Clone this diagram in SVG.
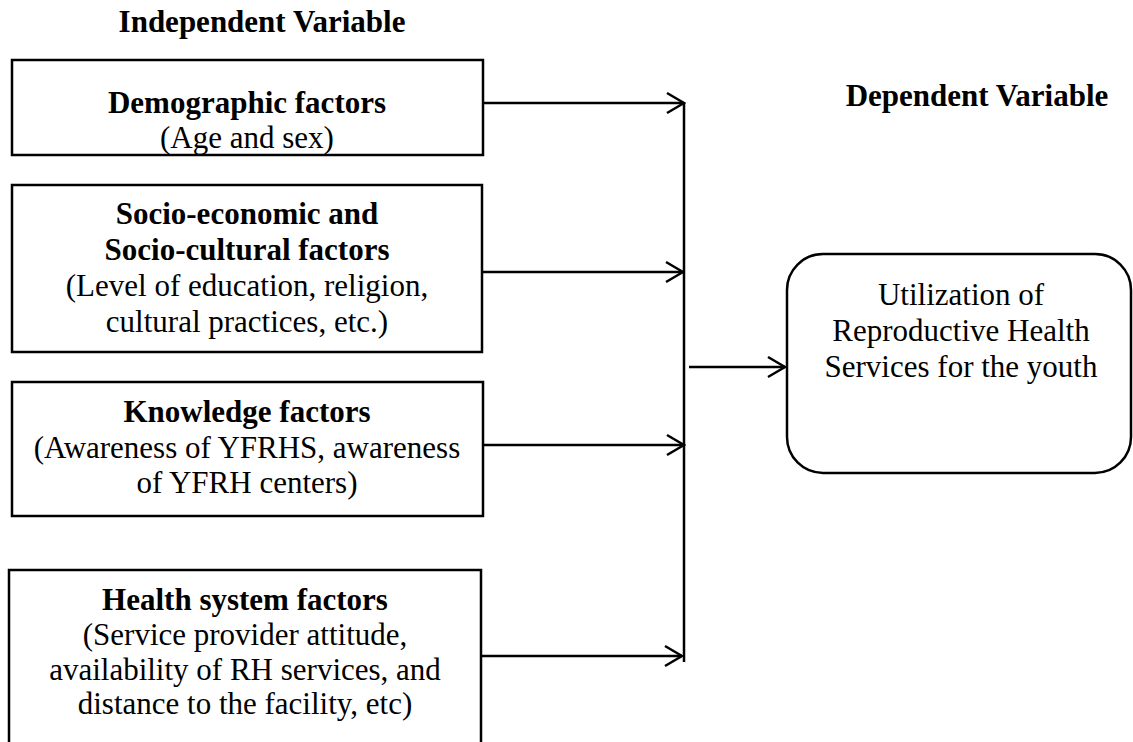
<svg xmlns="http://www.w3.org/2000/svg" width="1133" height="742" viewBox="0 0 1133 742">
<defs>
<style>
text{font-family:"Liberation Serif","Times New Roman",serif;font-size:31px;fill:#000;text-anchor:middle}
.b{font-weight:bold}
.box{fill:#fff;stroke:#000;stroke-width:2.5}
.ln{fill:none;stroke:#000;stroke-width:2.5}
</style>
<marker id="ah" markerWidth="20" markerHeight="24" refX="18" refY="12" orient="auto" markerUnits="userSpaceOnUse">
<path d="M1,2 L18,12 L1,22" fill="none" stroke="#000" stroke-width="2.5"/>
</marker>
</defs>
<rect width="1133" height="742" fill="#fff"/>
<g id="header-independent"><text class="b" x="262" y="32">Independent Variable</text></g>
<g id="header-dependent"><text class="b" x="977" y="106">Dependent Variable</text></g>
<g id="node-demographic">
<rect class="box" x="12" y="60" width="471" height="95"/>
<text class="b" x="247" y="113">Demographic factors</text>
<text x="247" y="148">(Age and sex)</text>
</g>
<g id="node-socio">
<rect class="box" x="12" y="185" width="470" height="167"/>
<text class="b" x="247" y="224">Socio-economic and</text>
<text class="b" x="247" y="260">Socio-cultural factors</text>
<text x="247" y="296">(Level of education, religion,</text>
<text x="247" y="332">cultural practices, etc.)</text>
</g>
<g id="node-knowledge">
<rect class="box" x="12" y="382" width="471" height="134"/>
<text class="b" x="247" y="422">Knowledge factors</text>
<text x="247" y="458">(Awareness of YFRHS, awareness</text>
<text x="247" y="493">of YFRH centers)</text>
</g>
<g id="node-health">
<path class="ln" d="M9,745 V570 H481 V745"/>
<text class="b" x="245" y="610">Health system factors</text>
<text x="245" y="645">(Service provider attitude,</text>
<text x="245" y="680">availability of RH services, and</text>
<text x="245" y="714">distance to the facility, etc)</text>
</g>
<g id="node-utilization">
<rect class="box" x="787" y="254" width="344" height="219" rx="36" ry="36"/>
<text x="961" y="305">Utilization of</text>
<text x="961" y="341">Reproductive Health</text>
<text x="961" y="377">Services for the youth</text>
</g>
<g id="connectors">
<line class="ln" x1="684" y1="103" x2="684" y2="662"/>
<line class="ln" x1="483" y1="103" x2="684" y2="103" marker-end="url(#ah)"/>
<line class="ln" x1="482" y1="272" x2="683" y2="272" marker-end="url(#ah)"/>
<line class="ln" x1="483" y1="445" x2="684" y2="445" marker-end="url(#ah)"/>
<line class="ln" x1="481" y1="656" x2="682" y2="656" marker-end="url(#ah)"/>
<line class="ln" x1="689" y1="367" x2="785" y2="367" marker-end="url(#ah)"/>
</g>
</svg>
